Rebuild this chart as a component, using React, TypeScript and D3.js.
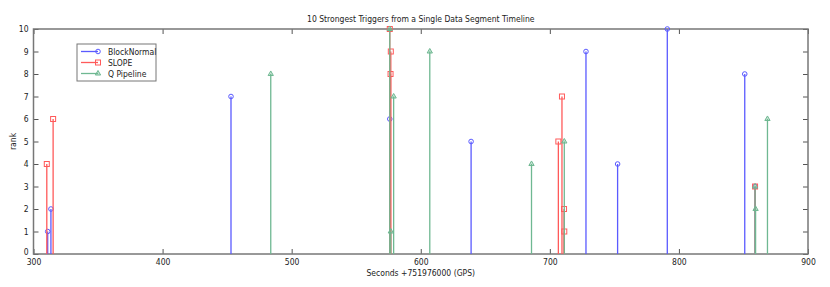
import React, { useEffect, useRef } from "react";
import { select, scaleLinear, axisBottom, axisLeft, axisRight, axisTop, symbol, symbolTriangle } from "d3";

// trigger times (seconds + 751976000) and their ranks
const blockNormalTimes = [311, 313.5, 453, 576, 639, 728, 752.5, 791, 851, 859];
const blockNormalRanks = [1, 2, 7, 6, 5, 9, 4, 10, 8, 3];

const slopeTimes = [310.3, 315.2, 576, 576.8, 576.6, 706.6, 709.4, 711, 711.2, 859];
const slopeRanks = [4, 6, 10, 9, 8, 5, 7, 2, 1, 3];

const qPipelineTimes = [483.8, 576, 579, 576.8, 607, 685.8, 711.2, 859.4, 868.6, 859];
const qPipelineRanks = [8, 10, 7, 1, 9, 4, 5, 2, 6, 3];

const xTicks = [300, 400, 500, 600, 700, 800, 900];
const yTicks = [0, 1, 2, 3, 4, 5, 6, 7, 8, 9, 10];

const seriesNames = ["BlockNormal", "SLOPE", "Q Pipeline"];

const App = () => {
  const svgRef = useRef(null);

  useEffect(() => {
    document.body.style.margin = "0";

    const margin = { top: 29, right: 22, bottom: 33, left: 33.5 };
    const width = 830 - margin.left - margin.right;
    const height = 287 - margin.top - margin.bottom;
    const font = "'Liberation Sans Narrow', 'DejaVu Sans Condensed', Arial, sans-serif";
    const fs = "8.5px";

    const svg = select(svgRef.current);
    svg.selectAll("*").remove();
    svg.attr("width", 830).attr("height", 287).style("display", "block").style("background", "#fff");

    const g = svg.append("g").attr("transform", `translate(${margin.left}, ${margin.top})`);

    const x = scaleLinear().domain([300, 900]).range([0, width]);
    const y = scaleLinear().domain([0, 10]).range([height, 0]);

    const styleAxis = (sel) => {
      sel.select(".domain").remove();
      sel.selectAll(".tick line").attr("stroke", "#555");
      sel.selectAll("text").attr("fill", "#222").style("font-family", font).style("font-size", fs);
    };

    g.append("g")
      .attr("transform", `translate(0, ${height})`)
      .call(axisBottom(x).tickValues(xTicks).tickSize(-5).tickPadding(5).tickFormat((d) => String(d)))
      .call(styleAxis);
    g.append("g")
      .call(axisTop(x).tickValues(xTicks).tickSize(-5).tickFormat(() => ""))
      .call(styleAxis);
    const yAxisG = g.append("g")
      .call(axisLeft(y).tickValues(yTicks).tickSize(-5).tickPadding(5).tickFormat((d) => String(d)))
      .call(styleAxis);
    // lift the "0" label a little so it clears the "300" below it
    yAxisG.selectAll(".tick text").filter((d) => d === 0).attr("dy", "0.05em");
    g.append("g")
      .attr("transform", `translate(${width}, 0)`)
      .call(axisRight(y).tickValues(yTicks).tickSize(-5).tickFormat(() => ""))
      .call(styleAxis);

    // box
    g.append("rect")
      .attr("width", width)
      .attr("height", height)
      .attr("fill", "none")
      .attr("stroke", "#777")
      .attr("stroke-width", 1.5);

    const series = [
      { times: blockNormalTimes, ranks: blockNormalRanks, color: "#5a5aff", marker: "circle" },
      { times: slopeTimes, ranks: slopeRanks, color: "#ff5a5a", marker: "square" },
      { times: qPipelineTimes, ranks: qPipelineRanks, color: "#6fb892", marker: "triangle" },
    ];

    const drawMarker = (sel, type, cx, cy, color) => {
      if (type === "circle") {
        sel.append("circle").attr("cx", cx).attr("cy", cy).attr("r", 2.3)
          .attr("fill", "none").attr("stroke", color).attr("stroke-width", 1);
      } else if (type === "square") {
        sel.append("rect").attr("x", cx - 2.5).attr("y", cy - 2.5).attr("width", 5).attr("height", 5)
          .attr("fill", "none").attr("stroke", color).attr("stroke-width", 1);
      } else {
        sel.append("path").attr("d", symbol().type(symbolTriangle).size(12)())
          .attr("transform", `translate(${cx}, ${cy})`)
          .attr("fill", color).attr("fill-opacity", 0.4).attr("stroke", color).attr("stroke-width", 1);
      }
    };

    series.forEach((s) => {
      const sg = g.append("g");
      s.times.forEach((t, i) => {
        sg.append("line")
          .attr("x1", x(t)).attr("x2", x(t))
          .attr("y1", y(0)).attr("y2", y(s.ranks[i]))
          .attr("stroke", s.color).attr("stroke-width", 1.3);
        drawMarker(sg, s.marker, x(t), y(s.ranks[i]), s.color);
      });
    });

    // legend
    const lg = svg.append("g").attr("transform", "translate(77, 44)");
    lg.append("rect").attr("width", 79).attr("height", 37).attr("fill", "#fff").attr("stroke", "#777").attr("stroke-width", 1);
    series.forEach((s, i) => {
      const ly = 7.5 + i * 11;
      lg.append("line").attr("x1", 4).attr("x2", 21).attr("y1", ly).attr("y2", ly)
        .attr("stroke", s.color).attr("stroke-width", 1.3);
      drawMarker(lg, s.marker, 21, ly, s.color);
      lg.append("text").attr("x", 31).attr("y", ly + 3).text(seriesNames[i])
        .style("font-family", font).style("font-size", fs).attr("fill", "#222");
    });

    // title and labels
    svg.append("text")
      .attr("x", margin.left + width / 2).attr("y", 22)
      .attr("text-anchor", "middle")
      .style("font-family", font).style("font-size", fs).attr("fill", "#222")
      .text("10 Strongest Triggers from a Single Data Segment Timeline");

    svg.append("text")
      .attr("x", margin.left + width / 2).attr("y", 276)
      .attr("text-anchor", "middle")
      .style("font-family", font).style("font-size", fs).attr("fill", "#222")
      .text("Seconds +751976000 (GPS)");

    svg.append("text")
      .attr("transform", `translate(16, ${margin.top + height / 2}) rotate(-90)`)
      .attr("text-anchor", "middle")
      .style("font-family", font).style("font-size", fs).attr("fill", "#222")
      .text("rank");
  }, []);

  return <svg ref={svgRef}></svg>;
};

export default App;
